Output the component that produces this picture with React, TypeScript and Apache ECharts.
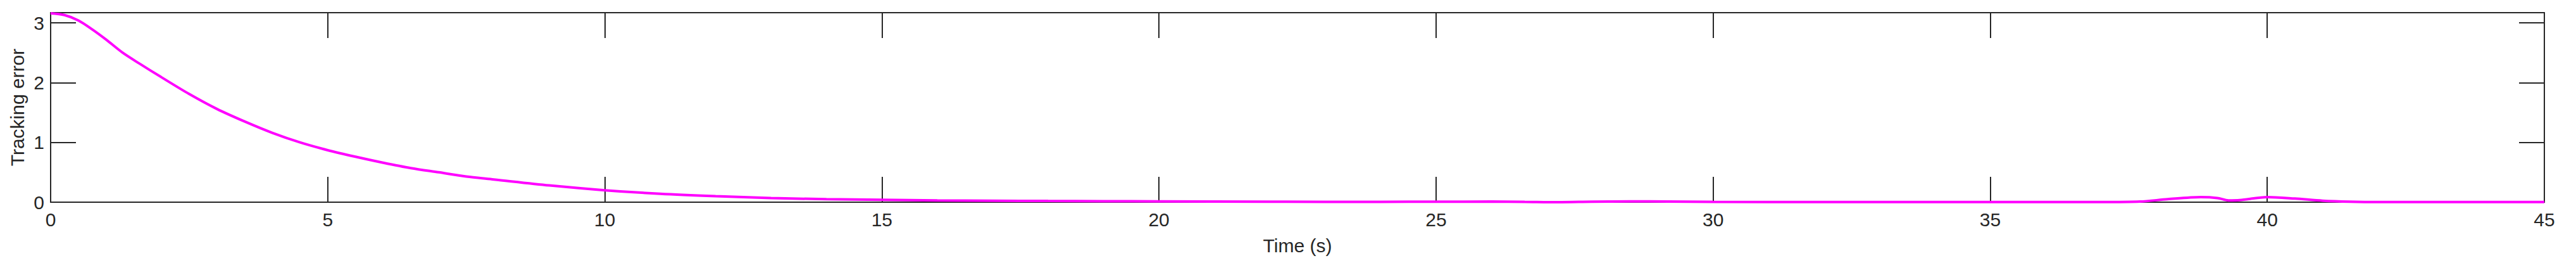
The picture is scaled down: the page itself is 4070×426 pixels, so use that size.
import React, { useEffect, useRef } from "react";
import * as echarts from "echarts";

const timeValues: number[] = [
  0, 0.25, 0.5, 0.75, 1.0, 1.3, 1.6, 2.0, 2.5, 3.0, 3.5, 4.0, 4.5, 5.0, 5.5, 6.0, 6.5, 7.0, 7.5, 8.0,
  9.0, 10, 11, 12, 13, 14, 15, 16, 17, 18, 19, 20, 22, 24, 25, 26, 26.6, 27.2, 27.8, 28.5, 29.2, 30,
  32, 35, 37, 37.7, 38.2, 38.8, 39.1, 39.3, 39.5, 40.0, 40.5, 41, 41.5, 42, 45,
];
const errorValues: number[] = [
  3.16, 3.13, 3.04, 2.89, 2.72, 2.5, 2.32, 2.09, 1.81, 1.56, 1.35, 1.16, 1.0, 0.87, 0.76, 0.66, 0.57, 0.5, 0.43, 0.38,
  0.28, 0.2, 0.14, 0.1, 0.07, 0.05, 0.04, 0.03, 0.025, 0.02, 0.017, 0.014, 0.008, 0.006, 0.008, 0.01, 0.006, 0.0, 0.008, 0.014, 0.01, 0.004,
  0.002, 0.002, 0.002, 0.01, 0.05, 0.085, 0.07, 0.03, 0.035, 0.085, 0.06, 0.025, 0.008, 0.002, 0.002,
];
const xMin = 0;
const xMax = 45;
const xStep = 5;
const yMin = 0;
const yMax = 3.17;
const yStep = 1;

const FONT = '"Liberation Sans", Arial, Helvetica, sans-serif';
const INK = "#262626";

export default function App() {
  const ref = useRef<HTMLDivElement>(null);
  useEffect(() => {
    document.body.style.margin = "0";
    if (!ref.current) return;
    const chart = echarts.init(ref.current, null, { renderer: "svg" });
    const data = timeValues.map((t, i) => [t, errorValues[i]]);
    const tickStyle = { show: true, inside: true, length: 40, lineStyle: { color: INK, width: 2 } };
    const lineStyle = { show: true, onZero: false, lineStyle: { color: INK, width: 2 } };
    const intLabel = (v: number) => (Math.abs(v - Math.round(v)) < 1e-6 ? String(Math.round(v)) : "");
    chart.setOption({
      animation: false,
      backgroundColor: "#ffffff",
      grid: {
        left: 80,
        right: 50,
        top: 20,
        bottom: 107,
        containLabel: false,
        outerBoundsMode: "none",
        show: false,
      },
      xAxis: [
        {
          type: "value",
          min: xMin,
          max: xMax,
          interval: xStep,
          position: "bottom",
          name: "Time (s)",
          nameLocation: "middle",
          nameGap: 53,
          nameTextStyle: { color: INK, fontSize: 30, fontFamily: FONT },
          axisLine: lineStyle,
          axisTick: tickStyle,
          axisLabel: { color: INK, fontSize: 30, fontFamily: FONT, margin: 12 },
          splitLine: { show: false },
        },
        {
          type: "value",
          min: xMin,
          max: xMax,
          interval: xStep,
          position: "top",
          axisLine: lineStyle,
          axisTick: tickStyle,
          axisLabel: { show: false },
          splitLine: { show: false },
        },
      ],
      yAxis: [
        {
          type: "value",
          min: yMin,
          max: yMax,
          interval: yStep,
          position: "left",
          name: "Tracking error",
          nameLocation: "middle",
          nameGap: 33,
          nameTextStyle: { color: INK, fontSize: 30, fontFamily: FONT },
          axisLine: lineStyle,
          axisTick: tickStyle,
          axisLabel: { color: INK, fontSize: 30, fontFamily: FONT, margin: 10, formatter: intLabel },
          splitLine: { show: false },
        },
        {
          type: "value",
          min: yMin,
          max: yMax,
          interval: yStep,
          position: "right",
          axisLine: lineStyle,
          axisTick: tickStyle,
          axisLabel: { show: false },
          splitLine: { show: false },
        },
      ],
      series: [
        {
          type: "line",
          data,
          xAxisIndex: 0,
          yAxisIndex: 0,
          showSymbol: false,
          smooth: 0.3,
          clip: false,
          lineStyle: { color: "#ff00ff", width: 4 },
          z: 5,
        },
      ],
    });
    return () => chart.dispose();
  }, []);
  return <div ref={ref} style={{ width: 4070, height: 426 }} />;
}
